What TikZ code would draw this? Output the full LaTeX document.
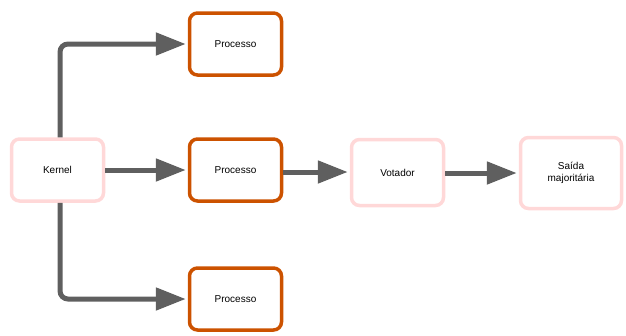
\documentclass[tikz,border=0pt]{standalone}
\usepackage{fontspec}
\setmainfont{Liberation Sans}
\usetikzlibrary{arrows.meta}
\definecolor{pinkb}{HTML}{FFD8D8}
\definecolor{orangeb}{HTML}{CC5200}
\definecolor{linec}{HTML}{5F5F5F}
\begin{document}
\begin{tikzpicture}[x=1pt,y=-1pt,
  box/.style={draw, line width=3.5pt, rounded corners=8pt, fill=white, minimum width=92pt, minimum height=62pt, font=\fontsize{10}{12}\selectfont, align=center, inner sep=0pt},
  pinkbox/.style={box, draw=pinkb},
  orangebox/.style={box, draw=orangeb},
  conn/.style={draw=linec, line width=5pt, rounded corners=8pt, -{Triangle[length=30pt,width=22pt]}, shorten >=2pt}]
\useasboundingbox (0,0) rectangle (626,335);
\node[pinkbox] (k) at (57.5,170) {Kernel};
\node[orangebox] (p1) at (235.5,44) {Processo};
\node[orangebox] (p2) at (235.5,170) {Processo};
\node[orangebox] (p3) at (235.5,299) {Processo};
\node[pinkbox, minimum height=66pt] (v) at (397.5,172.5) {Votador};
\node[pinkbox, minimum width=101pt, minimum height=71pt] (s) at (571,173) {Saída\\majoritária};
\draw[conn] (k.north -| 60,0) |- (p1.west);
\draw[conn] (k.south -| 60,0) |- (p3.west);
\draw[conn] (k.east) -- (p2.west);
\draw[conn] (p2.east |- 0,172) -- (v.west |- 0,172);
\draw[conn] (v.east |- 0,173) -- (s.west |- 0,173);
\end{tikzpicture}
\end{document}
